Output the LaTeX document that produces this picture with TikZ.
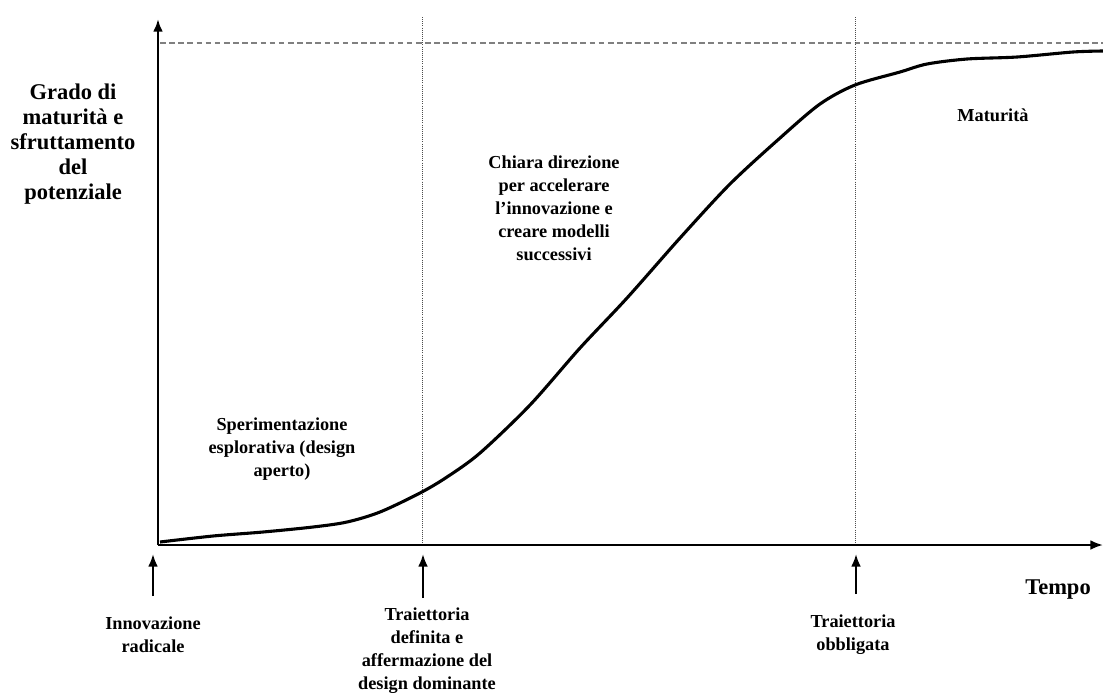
\documentclass[tikz,border=0pt]{standalone}
\usepackage{fontspec}
\setmainfont{Liberation Serif}
\usepackage{xcolor}
\usetikzlibrary{arrows.meta}

\begin{document}
\begin{tikzpicture}[x=0.025cm,y=-0.025cm,>={Latex[length=9pt,width=7pt]},
  lbl/.style={inner sep=0pt,align=center,font=\bfseries\fontsize{13}{16.3}\selectfont},
  big/.style={inner sep=0pt,align=center,font=\bfseries\fontsize{16}{17.8}\selectfont},
  phase/.style={line width=0.5pt,black!70,densely dotted},
  mark arrow/.style={line width=1.6pt,->}]
\useasboundingbox (0,0) rectangle (1103,693);
% assi
\coordinate (o) at (158,545);
\coordinate (ytop) at (158,19);
\coordinate (xend) at (1103,545);
\draw[gray,line width=0.8pt,dash pattern=on 4pt off 2.5pt] (160,43)--(1103,43);
\draw[phase] (422,17)--(422,545);
\draw[phase] (855,17)--(855,545);
\draw[line width=1.8pt,->] (o)--(ytop);
\draw[line width=1.6pt,->] (o)--(xend);
% curva a S
\draw[line width=2.2pt,line join=round,smooth] plot coordinates {
  (160,542) (213,536) (263,532) (313,527) (347,522) (380,512) (420,493)
  (447,477) (480,453) (530,405) (580,348) (627,298) (680,238) (730,184)
  (780,138) (820,104) (855,85) (900,72) (927,64) (967,59)
  (1017,57) (1073,52) (1103,51)};
% frecce sotto l'asse
\coordinate (a1) at (153,596); \coordinate (t1) at (153,554);
\coordinate (a2) at (423,598); \coordinate (t2) at (423,554);
\coordinate (a3) at (856,594); \coordinate (t3) at (856,554);
\foreach \i in {1,2,3} {
\draw[mark arrow] (a\i)--(t\i);
}
% testi
\node[big] (ylab) at (73,144) {Grado di\\maturità e\\sfruttamento\\del\\potenziale};
\node[big] (xlab) at (1058,590) {Tempo};
\node[lbl] (explore) at (282,449) {Sperimentazione\\esplorativa (design\\aperto)};
\node[lbl] (accel) at (554,208) {Chiara direzione\\per accelerare\\l’innovazione e\\creare modelli\\successivi};
\node[lbl] (mature) at (993,115) {Maturità};
\node[lbl] (radical) at (153,635) {Innovazione\\radicale};
\node[lbl] (dominant) at (427,651) {Traiettoria\\definita e\\affermazione del\\design dominante};
\node[lbl] (locked) at (853,635) {Traiettoria\\obbligata};
\end{tikzpicture}
\end{document}
